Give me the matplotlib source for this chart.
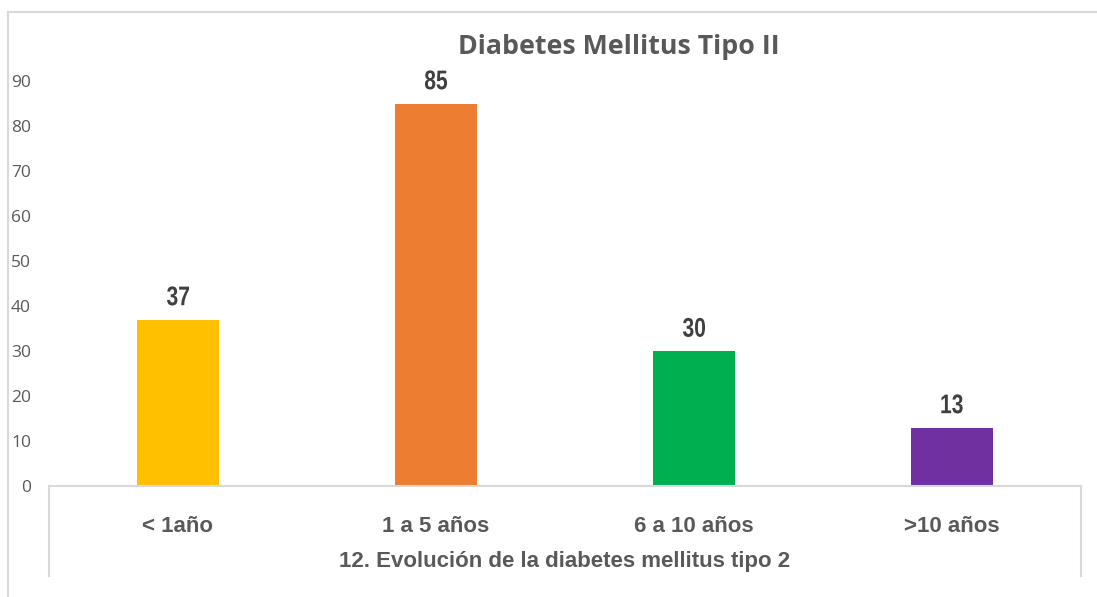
import matplotlib
matplotlib.use("Agg")
import matplotlib.pyplot as plt
from matplotlib.lines import Line2D
from matplotlib.textpath import TextPath
from matplotlib.patches import PathPatch
from matplotlib.font_manager import FontProperties
from matplotlib.transforms import Affine2D, IdentityTransform

categories = ["< 1año", "1 a 5 años", "6 a 10 años", ">10 años"]
values = [37, 85, 30, 13]
colors = ["#FFC000", "#ED7D31", "#00B050", "#7030A0"]
yticks = [0, 10, 20, 30, 40, 50, 60, 70, 80, 90]

title = "Diabetes Mellitus Tipo II"
xlabel = "12. Evolución de la diabetes mellitus tipo 2"

W, H = 1097, 597
fig = plt.figure(figsize=(W / 100, H / 100), dpi=100)
fig.patch.set_facecolor("white")

def fx(px):
    return px / W

def fy(py):
    return 1 - py / H

# plot area in pixel coordinates
left, right, top, bottom = 49, 1081, 81, 486
ax = fig.add_axes([fx(left), fy(bottom), fx(right) - fx(left), (bottom - top) / H])

x = list(range(len(categories)))
ax.bar(x, values, width=0.315, color=colors, zorder=2)
ax.set_xlim(-0.5, len(categories) - 0.5)
ax.set_ylim(0, 90)
ax.set_yticks(yticks)
ax.set_yticklabels([str(t) for t in yticks], fontfamily="Open Sans",
                   fontsize=12.5, color="#595959")
ax.tick_params(axis="y", length=0, pad=13)
ax.set_xticks([])
for s in ax.spines.values():
    s.set_visible(False)

# value labels: bold, horizontally condensed glyph outlines
label_font = FontProperties(family="Liberation Sans", weight="bold")
for xi, v in zip(x, values):
    tp = TextPath((0, 0), str(v), size=27, prop=label_font)
    bb = tp.get_extents()
    px, py = ax.transData.transform((xi, v))
    tr = (Affine2D().translate(-(bb.x0 + bb.x1) / 2, -bb.y0)
          .scale(0.78, 1).translate(px, py + 14))
    fig.add_artist(PathPatch(tr.transform_path(tp), facecolor="#404040",
                             edgecolor="none", transform=IdentityTransform()))

# category labels and axis title below the plot area
for xi, c in zip(x, categories):
    ax.annotate(c, (xi, 0), xytext=(0, -29), textcoords="offset points",
                ha="center", va="center", fontfamily="Liberation Sans",
                fontweight="bold", fontsize=16, color="#595959",
                annotation_clip=False)

fig.text(fx(565), fy(562), xlabel, ha="center", va="center",
         fontfamily="Liberation Sans", fontweight="bold", fontsize=16,
         color="#595959")

fig.text(fx(619), fy(47), title, ha="center", va="center",
         fontfamily="Open Sans", fontweight="bold", fontsize=19.3,
         color="#595959")

grid_c = "#D9D9D9"
# category axis box
fig.add_artist(Line2D([fx(left), fx(right)], [fy(bottom), fy(bottom)], color=grid_c, lw=1.5))
fig.add_artist(Line2D([fx(left), fx(left)], [fy(bottom), fy(576)], color=grid_c, lw=1.5))
fig.add_artist(Line2D([fx(right), fx(right)], [fy(bottom), fy(576)], color=grid_c, lw=1.5))

# chart outer border
fig.add_artist(Line2D([fx(8), fx(W)], [fy(12), fy(12)], color=grid_c, lw=1.5))
fig.add_artist(Line2D([fx(8), fx(8)], [fy(12), fy(H)], color=grid_c, lw=1.5))

fig.savefig("out.png", dpi=100, facecolor="white")
